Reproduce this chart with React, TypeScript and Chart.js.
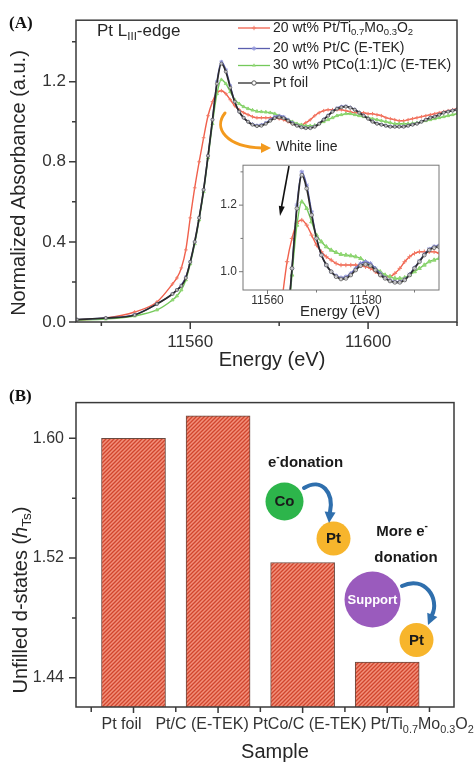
import React, { useEffect, useRef } from 'react';
import { Chart, registerables } from 'chart.js';
Chart.register(...registerables);

// ---------------- DATA ----------------
const energies = [
  11534.5, 11541, 11547.5, 11552.5, 11556, 11557, 11558, 11559, 11560, 11561,
  11562, 11563, 11564, 11565, 11566, 11567, 11568, 11569, 11570, 11571,
  11572, 11573, 11574, 11575, 11576, 11577, 11578, 11579, 11580, 11581,
  11582, 11583, 11584, 11585, 11586, 11587, 11588, 11589, 11590, 11591,
  11592, 11593, 11594, 11595, 11596, 11597, 11598, 11599, 11600, 11601,
  11602, 11603, 11604, 11605, 11606, 11607, 11608, 11609, 11610, 11611,
  11612, 11613, 11614, 11615, 11616, 11617, 11618, 11619, 11620,
];
const ptTiMoO = [
  0.01, 0.02, 0.05, 0.10, 0.19, 0.22, 0.27, 0.36, 0.52, 0.67,
  0.80, 0.92, 1.03, 1.10, 1.145, 1.155, 1.14, 1.11, 1.08, 1.06,
  1.045, 1.035, 1.025, 1.02, 1.02, 1.02, 1.02, 1.018, 1.015, 1.01,
  1.0, 0.99, 0.985, 0.985, 0.995, 1.01, 1.03, 1.045, 1.055, 1.06,
  1.06, 1.06, 1.06, 1.055, 1.05, 1.045, 1.045, 1.045, 1.04, 1.04,
  1.035, 1.03, 1.02, 1.015, 1.01, 1.005, 1.005, 1.01, 1.015, 1.02,
  1.025, 1.03, 1.035, 1.04, 1.045, 1.05, 1.055, 1.06, 1.065,
];
const ptCEtek = [
  0.012, 0.02, 0.037, 0.09, 0.14, 0.16, 0.185, 0.225, 0.30, 0.40,
  0.52, 0.66, 0.83, 1.01, 1.20, 1.30, 1.26, 1.18, 1.10, 1.05,
  1.02, 1.0, 0.988, 0.982, 0.985, 0.995, 1.01, 1.025, 1.03, 1.025,
  1.01, 0.995, 0.982, 0.974, 0.97, 0.97, 0.977, 0.992, 1.012, 1.032,
  1.052, 1.068, 1.076, 1.078, 1.072, 1.062, 1.047, 1.032, 1.017, 1.003,
  0.992, 0.986, 0.981, 0.977, 0.976, 0.976, 0.977, 0.981, 0.986, 0.992,
  1.001, 1.011, 1.02, 1.027, 1.036, 1.045, 1.051, 1.056, 1.062,
];
const ptCoEtek = [
  0.01, 0.015, 0.03, 0.06, 0.11, 0.13, 0.16, 0.21, 0.29, 0.39,
  0.51, 0.65, 0.82, 0.99, 1.14, 1.21, 1.19, 1.15, 1.11, 1.09,
  1.075, 1.065, 1.058, 1.052, 1.05, 1.048, 1.045, 1.04, 1.03, 1.02,
  1.01, 1.0, 0.99, 0.985, 0.98, 0.98, 0.982, 0.99, 1.0, 1.01,
  1.02, 1.03, 1.035, 1.04, 1.04, 1.035, 1.03, 1.025, 1.02, 1.015,
  1.01, 1.005, 1.0, 0.995, 0.99, 0.99, 0.99, 0.99, 0.992, 0.995,
  1.0, 1.005, 1.01, 1.015, 1.02, 1.025, 1.03, 1.035, 1.04,
];
const ptFoil = [
  0.012, 0.02, 0.035, 0.09, 0.14, 0.16, 0.18, 0.22, 0.30, 0.40,
  0.52, 0.66, 0.83, 1.01, 1.19, 1.29, 1.25, 1.17, 1.10, 1.05,
  1.02, 1.0, 0.985, 0.978, 0.98, 0.99, 1.005, 1.018, 1.022, 1.018,
  1.005, 0.99, 0.98, 0.972, 0.968, 0.968, 0.975, 0.99, 1.01, 1.03,
  1.05, 1.065, 1.072, 1.075, 1.07, 1.06, 1.045, 1.03, 1.015, 1.0,
  0.99, 0.985, 0.98, 0.975, 0.975, 0.975, 0.975, 0.98, 0.985, 0.99,
  1.0, 1.01, 1.02, 1.025, 1.035, 1.045, 1.05, 1.055, 1.06,
];

const yTicksA = [0, 0.4, 0.8, 1.2];
const yMinorA = [0.2, 0.6, 1.0, 1.4];
const xTicksA = [11560, 11600];
const xMinorA = [11540, 11580, 11620];
const insetXTicks = [11560, 11580];
const insetXMinor = [11570, 11590];
const insetYTicks = [1.0, 1.2];
const insetYMinor = [1.1, 1.3];

const samples = ['Pt foil', 'Pt/C (E-TEK)', 'PtCo/C (E-TEK)', 'Pt/Ti0.7Mo0.3O2'];
const unfilledStates = [1.600, 1.615, 1.517, 1.4505];
const yTicksB = [1.44, 1.52, 1.60];
const yMinorB = [1.48, 1.56];

type Seg = { t: string; sub?: boolean; sup?: boolean; it?: boolean };
const legendLabels: Seg[][] = [
  [{ t: '20 wt% Pt/Ti' }, { t: '0.7', sub: true }, { t: 'Mo' }, { t: '0.3', sub: true }, { t: 'O' }, { t: '2', sub: true }],
  [{ t: '20 wt% Pt/C (E-TEK)' }],
  [{ t: '30 wt% PtCo(1:1)/C (E-TEK)' }],
  [{ t: 'Pt foil' }],
];
const sampleLabels: Seg[][] = [
  [{ t: 'Pt foil' }],
  [{ t: 'Pt/C (E-TEK)' }],
  [{ t: 'PtCo/C (E-TEK)' }],
  [{ t: 'Pt/Ti' }, { t: '0.7', sub: true }, { t: 'Mo' }, { t: '0.3', sub: true }, { t: 'O' }, { t: '2', sub: true }],
];

// ---------------- STYLE ----------------
const FONT = '"Liberation Sans", Arial, Helvetica, sans-serif';
const SERIF = '"Liberation Serif", "Times New Roman", serif';
const AXIS = '#3a3a3a';
const TXT = '#262626';
const SERIES_STYLE = [
  { color: '#f0604c', point: '#f27a66', style: 'cross', order: 3 },
  { color: '#5a5eae', point: '#8c90d8', style: 'star', order: 1 },
  { color: '#74c95a', point: '#8fd672', style: 'triangle', order: 2 },
  { color: '#2b2b2b', point: '#555555', style: 'circle', order: 0 },
];
const seriesValues = [ptTiMoO, ptCEtek, ptCoEtek, ptFoil];

function segFont(s: Seg, size: number, weight: string, family: string) {
  const fs = s.sub || s.sup ? size * 0.68 : size;
  return `${s.it ? 'italic ' : ''}${weight} ${fs}px ${family}`;
}
function drawRich(ctx: CanvasRenderingContext2D, segs: Seg[], x: number, y: number, size: number,
  align: 'left' | 'center' | 'right' = 'left', weight = 'normal', color = TXT, family = FONT) {
  ctx.save();
  ctx.textBaseline = 'middle';
  ctx.textAlign = 'left';
  ctx.fillStyle = color;
  let total = 0;
  for (const s of segs) { ctx.font = segFont(s, size, weight, family); total += ctx.measureText(s.t).width; }
  let cx = align === 'left' ? x : align === 'center' ? x - total / 2 : x - total;
  for (const s of segs) {
    ctx.font = segFont(s, size, weight, family);
    const dy = s.sub ? size * 0.33 : s.sup ? -size * 0.36 : 0;
    ctx.fillText(s.t, cx, y + dy);
    cx += ctx.measureText(s.t).width;
  }
  ctx.restore();
}
function drawMarker(ctx: CanvasRenderingContext2D, style: string, x: number, y: number, r: number, color: string) {
  ctx.save();
  ctx.strokeStyle = color; ctx.fillStyle = color; ctx.lineWidth = 1;
  ctx.beginPath();
  if (style === 'cross' || style === 'star') {
    ctx.moveTo(x - r, y); ctx.lineTo(x + r, y); ctx.moveTo(x, y - r); ctx.lineTo(x, y + r);
    if (style === 'star') { const d = r * 0.7; ctx.moveTo(x - d, y - d); ctx.lineTo(x + d, y + d); ctx.moveTo(x - d, y + d); ctx.lineTo(x + d, y - d); }
    ctx.stroke();
  } else if (style === 'triangle') {
    ctx.moveTo(x, y - r); ctx.lineTo(x + r * 0.87, y + r * 0.5); ctx.lineTo(x - r * 0.87, y + r * 0.5); ctx.closePath(); ctx.fill();
  } else {
    ctx.arc(x, y, r, 0, Math.PI * 2); ctx.fillStyle = '#fff'; ctx.fill(); ctx.stroke();
  }
  ctx.restore();
}
function arrowHead(ctx: CanvasRenderingContext2D, x: number, y: number, ang: number, len: number, w: number, color: string) {
  ctx.save();
  ctx.translate(x, y); ctx.rotate(ang);
  ctx.beginPath(); ctx.moveTo(0, 0); ctx.lineTo(-len, -w / 2); ctx.lineTo(-len, w / 2); ctx.closePath();
  ctx.fillStyle = color; ctx.fill();
  ctx.restore();
}
function drawTicks(ctx: CanvasRenderingContext2D, chart: any, xs: number[], xl: number, xm: number[], xml: number,
  ys: number[], yl: number, ym: number[], yml: number, color: string, lw: number) {
  const a = chart.chartArea; const sx = chart.scales.x; const sy = chart.scales.y;
  ctx.save();
  ctx.strokeStyle = color; ctx.lineWidth = lw;
  ctx.strokeRect(a.left, a.top, a.right - a.left, a.bottom - a.top);
  ctx.beginPath();
  xs.forEach(v => { const p = sx.getPixelForValue(v); ctx.moveTo(p, a.bottom); ctx.lineTo(p, a.bottom + xl); });
  xm.forEach(v => { const p = sx.getPixelForValue(v); ctx.moveTo(p, a.bottom); ctx.lineTo(p, a.bottom + xml); });
  ys.forEach(v => { const p = sy.getPixelForValue(v); ctx.moveTo(a.left - yl, p); ctx.lineTo(a.left, p); });
  ym.forEach(v => { const p = sy.getPixelForValue(v); ctx.moveTo(a.left - yml, p); ctx.lineTo(a.left, p); });
  ctx.stroke();
  ctx.restore();
}

function makeLineDatasets(radius: number, lw: number, clip: number | undefined) {
  return seriesValues.map((vals, i) => {
    const st = SERIES_STYLE[i];
    const isFoil = st.style === 'circle';
    return {
      label: String(i),
      data: energies.map((e, k) => ({ x: e, y: vals[k] })),
      borderColor: st.color,
      backgroundColor: st.point,
      pointStyle: st.style,
      pointRadius: isFoil ? radius * 0.85 : radius,
      pointBorderColor: st.point,
      pointBackgroundColor: isFoil ? 'rgba(255,255,255,0.7)' : st.point,
      pointBorderWidth: isFoil ? 0.8 : 1,
      borderWidth: isFoil ? lw * 1.2 : lw,
      cubicInterpolationMode: 'monotone',
      order: st.order,
      clip,
    };
  });
}

function scaleOpts(min: number, max: number, ticks: number[], fmt: (v: number) => string, size: number, pad: number, fit: (s: any) => void, show = true) {
  return {
    type: 'linear', min, max, offset: false,
    afterBuildTicks: (s: any) => { s.ticks = ticks.map(v => ({ value: v })); },
    afterFit: fit,
    grid: { display: false, drawTicks: false, offset: false },
    border: { display: false },
    ticks: { display: show, callback: (v: any) => fmt(Number(v)), font: { size, family: FONT }, color: '#333', padding: pad, maxRotation: 0, autoSkip: false },
  };
}

export default function App() {
  const aRef = useRef<HTMLCanvasElement>(null);
  const iRef = useRef<HTMLCanvasElement>(null);
  const bRef = useRef<HTMLCanvasElement>(null);

  useEffect(() => {
    const charts: Chart[] = [];

    // ---------- Panel A ----------
    const panelA = {
      id: 'panelA',
      afterDraw(chart: any) {
        const ctx: CanvasRenderingContext2D = chart.ctx;
        drawTicks(ctx, chart, xTicksA, 7, xMinorA, 4, yTicksA, 7, yMinorA, 4, AXIS, 1.5);
        ctx.save();
        ctx.font = `bold 17px ${SERIF}`; ctx.fillStyle = '#111'; ctx.textBaseline = 'middle';
        ctx.fillText('(A)', 9, 24);
        ctx.restore();
        drawRich(ctx, [{ t: 'Pt L' }, { t: 'III', sub: true }, { t: '-edge' }], 97, 31, 17);
        const ly = [28, 48.5, 65.5, 83];
        SERIES_STYLE.forEach((st, i) => {
          ctx.save();
          ctx.strokeStyle = st.color; ctx.lineWidth = 1.3;
          ctx.beginPath(); ctx.moveTo(238, ly[i]); ctx.lineTo(270, ly[i]); ctx.stroke();
          ctx.restore();
          drawMarker(ctx, st.style, 254, ly[i], 2.2, st.point);
          drawRich(ctx, legendLabels[i], 273, ly[i], 14);
        });
        // orange arrow
        ctx.save();
        ctx.strokeStyle = '#f39a1e'; ctx.lineWidth = 3; ctx.lineCap = 'round';
        ctx.beginPath(); ctx.moveTo(225, 113); ctx.bezierCurveTo(213, 128, 226, 147, 262, 148); ctx.stroke();
        ctx.restore();
        arrowHead(ctx, 271, 148, 0, 10, 10, '#f39a1e');
        drawRich(ctx, [{ t: 'White line' }], 276, 147, 14);
        // axis titles
        drawRich(ctx, [{ t: 'Energy (eV)' }], 272, 360, 20, 'center');
        ctx.save(); ctx.translate(19, 183); ctx.rotate(-Math.PI / 2);
        drawRich(ctx, [{ t: 'Normalized Absorbance (a.u.)' }], 0, 0, 20, 'center');
        ctx.restore();
      },
    };
    charts.push(new Chart(aRef.current!, {
      type: 'line',
      data: { datasets: makeLineDatasets(1.8, 1.4, undefined) as any },
      options: {
        responsive: false, animation: false, devicePixelRatio: 1, events: [],
        layout: { padding: { top: 18, right: 19, left: 0, bottom: 0 } },
        plugins: { legend: { display: false }, tooltip: { enabled: false } },
        scales: {
          x: scaleOpts(11534.3, 11620, xTicksA, v => String(v), 17, 10, (s: any) => { s.height = 59; }),
          y: scaleOpts(0, 1.507, yTicksA, v => v.toFixed(1), 17, 10, (s: any) => { s.width = 76; }),
        } as any,
      },
      plugins: [panelA],
    } as any));

    // ---------- Inset ----------
    const inset = {
      id: 'inset',
      beforeDatasetsDraw(chart: any) {
        const a = chart.chartArea; const ctx = chart.ctx;
        ctx.save(); ctx.fillStyle = '#fff'; ctx.fillRect(a.left, a.top, a.right - a.left, a.bottom - a.top); ctx.restore();
      },
      afterDraw(chart: any) {
        const ctx: CanvasRenderingContext2D = chart.ctx;
        drawTicks(ctx, chart, insetXTicks, 4, insetXMinor, 2.5, insetYTicks, 4, insetYMinor, 2.5, '#777', 1);
        ctx.save();
        ctx.strokeStyle = '#111'; ctx.lineWidth = 1.6;
        ctx.beginPath(); ctx.moveTo(89, 14); ctx.lineTo(81.5, 55); ctx.stroke();
        ctx.restore();
        arrowHead(ctx, 80, 64, Math.atan2(50, -9), 10, 6, '#111');
        drawRich(ctx, [{ t: 'Energy (eV)' }], 140, 160, 15, 'center');
      },
    };
    charts.push(new Chart(iRef.current!, {
      type: 'line',
      data: { datasets: makeLineDatasets(2.2, 1.4, 0) as any },
      options: {
        responsive: false, animation: false, devicePixelRatio: 1, events: [],
        layout: { padding: { top: 10, right: 11, left: 0, bottom: 0 } },
        plugins: { legend: { display: false }, tooltip: { enabled: false } },
        scales: {
          x: scaleOpts(11555, 11595, insetXTicks, v => String(v), 12, 3, (s: any) => { s.height = 30; }),
          y: scaleOpts(0.945, 1.32, insetYTicks, v => v.toFixed(1), 12, 6, (s: any) => { s.width = 43; }),
        } as any,
      },
      plugins: [inset],
    } as any));

    // ---------- Panel B ----------
    const pc = document.createElement('canvas'); pc.width = 4; pc.height = 4;
    const g = pc.getContext('2d')!;
    g.fillStyle = '#f2907a'; g.fillRect(0, 0, 4, 4);
    g.strokeStyle = '#d1462e'; g.lineWidth = 1.3;
    g.beginPath(); g.moveTo(-1, 5); g.lineTo(5, -1); g.moveTo(-1, 1); g.lineTo(1, -1); g.moveTo(3, 5); g.lineTo(5, 3); g.stroke();
    const hatch = g.createPattern(pc, 'repeat')!;

    const labelShift = [-12, -16, 7, 35];
    const panelB = {
      id: 'panelB',
      afterDraw(chart: any) {
        const ctx: CanvasRenderingContext2D = chart.ctx;
        const sx = chart.scales.x;
        const majors = samples.map((_, i) => i + 1);
        const minors = [0.5, 1.5, 2.5, 3.5, 4.5];
        drawTicks(ctx, chart, majors, 6, minors, 5, yTicksB, 7, yMinorB, 4, AXIS, 1.5);
        sampleLabels.forEach((segs, i) => drawRich(ctx, segs, sx.getPixelForValue(i + 1) + labelShift[i], 344, 16, 'center', 'normal', '#333'));
        drawRich(ctx, [{ t: 'Sample' }], 275, 371, 20, 'center');
        ctx.save(); ctx.translate(21, 219); ctx.rotate(-Math.PI / 2);
        drawRich(ctx, [{ t: 'Unfilled d-states (' }, { t: 'h', it: true }, { t: 'Ts', sub: true }, { t: ')' }], 0, 0, 20, 'center');
        ctx.restore();
        ctx.save();
        ctx.font = `bold 17px ${SERIF}`; ctx.fillStyle = '#111'; ctx.textBaseline = 'middle';
        ctx.fillText('(B)', 9, 16);
        ctx.restore();
        // annotation: e- donation
        drawRich(ctx, [{ t: 'e' }, { t: '-', sup: true }, { t: 'donation' }], 268, 82, 15, 'left', 'bold', '#1a1a1a');
        const circle = (cx: number, cy: number, r: number, fill: string, label: string, fs: number, col: string) => {
          ctx.save(); ctx.beginPath(); ctx.arc(cx, cy, r, 0, Math.PI * 2); ctx.fillStyle = fill; ctx.fill(); ctx.restore();
          drawRich(ctx, [{ t: label }], cx, cy + 0.5, fs, 'center', 'bold', col);
        };
        circle(284.5, 120.5, 19, '#2db54b', 'Co', 15, '#1a1a1a');
        circle(333.5, 157.5, 17, '#f7b52c', 'Pt', 15, '#1a1a1a');
        const blue = '#2f6fad';
        ctx.save(); ctx.strokeStyle = blue; ctx.lineWidth = 4; ctx.lineCap = 'round';
        ctx.beginPath(); ctx.moveTo(304, 107); ctx.bezierCurveTo(322, 96, 334, 112, 330, 131); ctx.stroke();
        ctx.beginPath(); ctx.moveTo(402, 205); ctx.bezierCurveTo(425, 194, 440, 218, 432, 234); ctx.stroke();
        ctx.restore();
        arrowHead(ctx, 329, 142, Math.PI / 2 + 0.1, 11, 11, blue);
        arrowHead(ctx, 428, 244, Math.PI / 2 + 0.4, 11, 11, blue);
        drawRich(ctx, [{ t: 'More e' }, { t: '-', sup: true }], 402, 151, 15, 'center', 'bold', '#1a1a1a');
        drawRich(ctx, [{ t: 'donation' }], 406, 177, 15, 'center', 'bold', '#1a1a1a');
        circle(372.5, 218.5, 28, '#9a5bbd', 'Support', 13, '#ffffff');
        circle(416.5, 259, 17, '#f7b52c', 'Pt', 15, '#1a1a1a');
      },
    };
    charts.push(new Chart(bRef.current!, {
      type: 'bar',
      data: {
        datasets: [{
          data: samples.map((_, i) => ({ x: i + 1, y: unfilledStates[i] })),
          backgroundColor: hatch,
          borderColor: '#6a4a40',
          borderWidth: 1,
          barThickness: 64,
          base: 1.4205,
        }],
      },
      options: {
        responsive: false, animation: false, devicePixelRatio: 1, events: [],
        layout: { padding: { top: 21, right: 22, left: 0, bottom: 0 } },
        plugins: { legend: { display: false }, tooltip: { enabled: false } },
        scales: {
          x: scaleOpts(0.32, 4.79, [1, 2, 3, 4], v => String(v), 16, 8, (s: any) => { s.height = 55; }, false),
          y: scaleOpts(1.4205, 1.6238, yTicksB, v => v.toFixed(2), 16, 12, (s: any) => { s.width = 76; }),
        } as any,
      },
      plugins: [panelB],
    } as any));

    return () => charts.forEach(c => c.destroy());
  }, []);

  return (
    <div style={{ position: 'absolute', left: 0, top: 0, width: 476, height: 762, background: '#fff', overflow: 'hidden' }}>
      <canvas ref={aRef} width={476} height={381} style={{ position: 'absolute', left: 0, top: 0 }} />
      <canvas ref={iRef} width={250} height={168} style={{ position: 'absolute', left: 200, top: 152 }} />
      <canvas ref={bRef} width={476} height={381} style={{ position: 'absolute', left: 0, top: 381 }} />
    </div>
  );
}
